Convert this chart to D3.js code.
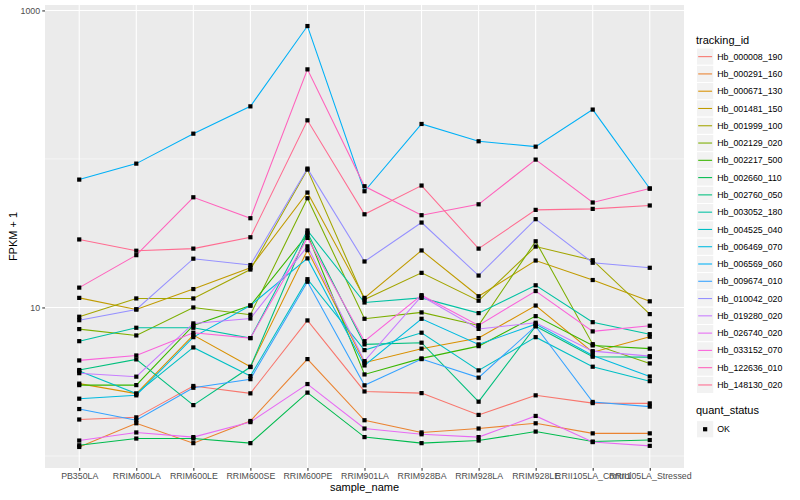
<!DOCTYPE html>
<html>
<head>
<meta charset="utf-8">
<script src="https://cdn.jsdelivr.net/npm/d3@7"></script>
<style>
  body { margin: 0; background: #fff; }
  text { font-family: "Liberation Sans", Arial, Helvetica, sans-serif; }
</style>
</head>
<body>
<svg id="chart" width="800" height="500"></svg>
<script>
// x categories
const samples = ["PB350LA", "RRIM600LA", "RRIM600LE", "RRIM600SE", "RRIM600PE", "RRIM901LA",
  "RRIM928BA", "RRIM928LA", "RRIM928LE", "RRII105LA_Control", "RRII105LA_Stressed"];

const trackingIds = ["Hb_000008_190", "Hb_000291_160", "Hb_000671_130", "Hb_001481_150",
  "Hb_001999_100", "Hb_002129_020", "Hb_002217_500", "Hb_002660_110", "Hb_002760_050",
  "Hb_003052_180", "Hb_004525_040", "Hb_006469_070", "Hb_006569_060", "Hb_009674_010",
  "Hb_010042_020", "Hb_019280_020", "Hb_026740_020", "Hb_033152_070", "Hb_122636_010",
  "Hb_148130_020"];

// FPKM + 1, one row per tracking_id, one value per sample
const fpkmPlus1 = [
  [1.76, 1.82, 2.96, 2.64, 8.18, 2.72, 2.65, 1.89, 2.56, 2.27, 2.26],
  [1.15, 1.66, 1.22, 1.72, 4.49, 1.74, 1.44, 1.53, 1.66, 1.42, 1.42],
  [3.07, 2.63, 6.51, 3.99, 24.3, 4.25, 5.28, 6.22, 10.3, 5.00, 6.35],
  [11.6, 9.7, 13.3, 18.5, 59.4, 11.6, 24.2, 11.9, 20.7, 15.3, 11.0],
  [8.66, 11.5, 11.5, 18.0, 84.8, 11.3, 17.1, 11.1, 25.7, 20.8, 9.02],
  [7.15, 6.48, 10.0, 8.93, 54.4, 8.39, 9.26, 7.57, 27.9, 5.66, 4.20],
  [3.00, 3.00, 7.57, 10.3, 31.0, 3.54, 4.54, 5.49, 8.74, 5.55, 5.28],
  [1.18, 1.31, 1.31, 1.22, 2.67, 1.34, 1.22, 1.27, 1.46, 1.25, 1.28],
  [3.79, 4.47, 2.20, 3.97, 31.8, 5.64, 5.79, 2.32, 7.48, 4.66, 4.63],
  [5.93, 7.30, 7.30, 6.22, 33.0, 10.8, 11.6, 9.16, 14.1, 7.96, 6.61],
  [3.73, 2.63, 5.38, 3.45, 15.5, 5.16, 6.76, 3.77, 6.31, 3.99, 3.19],
  [2.43, 2.56, 6.31, 10.3, 21.4, 4.07, 8.39, 5.64, 7.72, 4.75, 3.43],
  [72.6, 93.0, 148, 226, 785, 60.6, 172, 131.5, 121, 215, 63.2],
  [2.07, 1.74, 2.88, 3.29, 14.9, 2.99, 4.49, 3.37, 7.48, 2.31, 2.15],
  [8.21, 9.7, 21.3, 19.3, 86.1, 20.4, 37.3, 16.4, 39.3, 20.0, 18.5],
  [3.61, 3.42, 7.81, 8.43, 25.8, 4.35, 11.9, 7.17, 7.89, 5.08, 4.70],
  [1.27, 1.44, 1.34, 1.69, 3.05, 1.53, 1.40, 1.34, 1.86, 1.24, 1.17],
  [4.40, 4.75, 6.76, 6.22, 29.4, 5.93, 12.1, 7.57, 12.9, 6.90, 7.53],
  [13.6, 22.5, 55.2, 39.9, 401, 65.5, 41.8, 49.5, 99.0, 50.9, 63.2],
  [28.7, 24.1, 24.9, 29.7, 182, 42.4, 66.2, 24.9, 45.4, 46.1, 48.6]
];

const quantStatus = ["OK"];
const yBreaks = [10, 1000];
const yMinorBreaks = [1, 100];

// ggplot default hue palette, 20 levels
const palette = ["#F8766D", "#EA8331", "#D89000", "#C09B00", "#A3A500", "#7CAE00", "#39B600",
  "#00BB4E", "#00BF7D", "#00C1A3", "#00BFC4", "#00BAE0", "#00B0F6", "#35A2FF", "#9590FF",
  "#C77CFF", "#E76BF3", "#FA62DB", "#FF62BC", "#FF6C91"];

const panel = { left: 45, right: 684, top: 5, bottom: 468 };
const svg = d3.select("#chart");

const x = d3.scalePoint(samples, [panel.left, panel.right]).padding(0.6);

// log scale with ggplot's 5% expansion in transformed space
const allVals = fpkmPlus1.flat();
const lo = Math.log10(d3.min(allVals)), hi = Math.log10(d3.max(allVals));
const pad = (hi - lo) * 0.05;
const y = d3.scaleLog([10 ** (lo - pad), 10 ** (hi + pad)], [panel.bottom, panel.top]);

const color = d3.scaleOrdinal(trackingIds, palette);

// panel background and grid
svg.append("rect")
  .attr("x", panel.left).attr("y", panel.top)
  .attr("width", panel.right - panel.left).attr("height", panel.bottom - panel.top)
  .attr("fill", "#EBEBEB");

const grid = svg.append("g").attr("stroke", "#fff");
grid.selectAll(".minor").data(yMinorBreaks).join("line")
  .attr("x1", panel.left).attr("x2", panel.right)
  .attr("y1", d => y(d)).attr("y2", d => y(d))
  .attr("stroke-width", 0.53);
grid.selectAll(".major").data(yBreaks).join("line")
  .attr("x1", panel.left).attr("x2", panel.right)
  .attr("y1", d => y(d)).attr("y2", d => y(d))
  .attr("stroke-width", 1.07);
grid.selectAll(".xmajor").data(samples).join("line")
  .attr("x1", d => x(d)).attr("x2", d => x(d))
  .attr("y1", panel.top).attr("y2", panel.bottom)
  .attr("stroke-width", 1.07);

// lines
const line = d3.line().x((d, i) => x(samples[i])).y(d => y(d));
svg.append("g").attr("fill", "none").attr("stroke-width", 1.07)
  .selectAll("path").data(fpkmPlus1).join("path")
  .attr("stroke", (d, i) => color(trackingIds[i]))
  .attr("d", line);

// points (quant_status = OK, shape 15)
const pts = fpkmPlus1.flatMap(row => row.map((v, i) => ({ s: samples[i], v })));
svg.append("g").attr("fill", "#000")
  .selectAll("rect").data(pts).join("rect")
  .attr("x", d => x(d.s) - 2.1).attr("y", d => y(d.v) - 2.1)
  .attr("width", 4.2).attr("height", 4.2);

// axes
const styleAxis = g => {
  g.select(".domain").remove();
  g.selectAll(".tick line").attr("stroke", "#333333").attr("stroke-width", 1.07);
  g.selectAll(".tick text").attr("fill", "#4D4D4D").attr("font-size", 8.8)
    .attr("font-family", "Liberation Sans, Arial, sans-serif");
};

svg.append("g")
  .attr("transform", `translate(0,${panel.bottom})`)
  .call(d3.axisBottom(x).tickSize(2.75).tickPadding(2.2))
  .call(styleAxis);

svg.append("g")
  .attr("transform", `translate(${panel.left},0)`)
  .call(d3.axisLeft(y).tickValues(yBreaks).tickFormat(d3.format("d")).tickSize(2.75).tickPadding(2.2))
  .call(styleAxis);

svg.append("text")
  .attr("x", (panel.left + panel.right) / 2).attr("y", 491)
  .attr("text-anchor", "middle").attr("font-size", 11).attr("fill", "#000")
  .text("sample_name");

svg.append("text")
  .attr("transform", `translate(17,${(panel.top + panel.bottom) / 2}) rotate(-90)`)
  .attr("text-anchor", "middle").attr("font-size", 11).attr("fill", "#000")
  .text("FPKM + 1");

// legend: tracking_id
const keySize = 17.28, legX = 696.5, keyTop = 48;
svg.append("text").attr("x", 696).attr("y", 44)
  .attr("font-size", 11).text("tracking_id");

const keys = svg.append("g").selectAll("g").data(trackingIds).join("g")
  .attr("transform", (d, i) => `translate(${legX},${keyTop + i * keySize})`);
keys.append("rect").attr("width", keySize).attr("height", keySize)
  .attr("fill", "#F2F2F2").attr("stroke", "#fff").attr("stroke-width", 1);
keys.append("line")
  .attr("x1", 1.7).attr("x2", keySize - 1.7)
  .attr("y1", keySize / 2).attr("y2", keySize / 2)
  .attr("stroke", d => color(d)).attr("stroke-width", 1.07);
keys.append("text")
  .attr("x", keySize + 3.5).attr("y", keySize / 2).attr("dy", "0.35em")
  .attr("font-size", 8.8).attr("fill", "#000")
  .text(d => d);

// legend: quant_status
const qTop = 420.6;
svg.append("text").attr("x", 696).attr("y", 414)
  .attr("font-size", 11).text("quant_status");
const qkeys = svg.append("g").selectAll("g").data(quantStatus).join("g")
  .attr("transform", (d, i) => `translate(${legX},${qTop + i * keySize})`);
qkeys.append("rect").attr("width", keySize).attr("height", keySize)
  .attr("fill", "#F2F2F2").attr("stroke", "#fff").attr("stroke-width", 1);
qkeys.append("rect")
  .attr("x", keySize / 2 - 2.1).attr("y", keySize / 2 - 2.1)
  .attr("width", 4.2).attr("height", 4.2).attr("fill", "#000");
qkeys.append("text")
  .attr("x", keySize + 3.5).attr("y", keySize / 2).attr("dy", "0.35em")
  .attr("font-size", 8.8).attr("fill", "#000")
  .text(d => d);
</script>
</body>
</html>
